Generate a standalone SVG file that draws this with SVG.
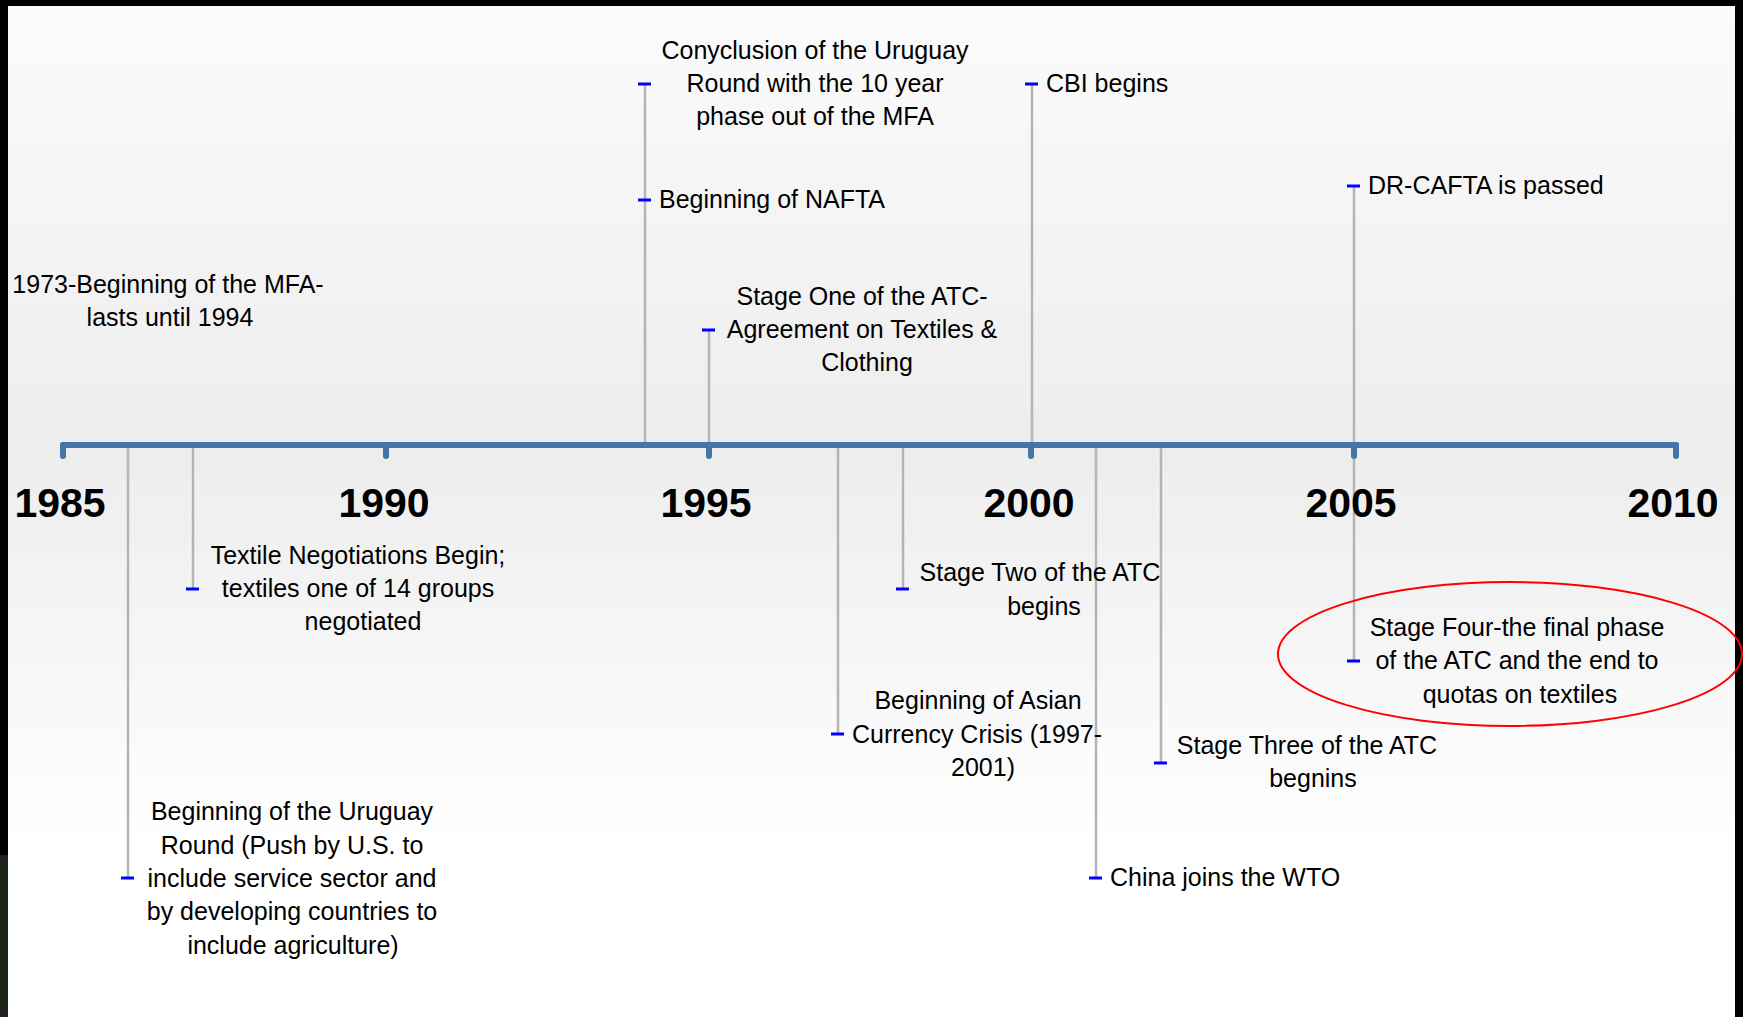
<svg xmlns="http://www.w3.org/2000/svg" width="1743" height="1017" viewBox="0 0 1743 1017">
<defs>
<linearGradient id="bg" x1="0" y1="0" x2="0" y2="1">
<stop offset="0" stop-color="#fbfbfb"/>
<stop offset="0.44" stop-color="#ededed"/>
<stop offset="0.84" stop-color="#ffffff"/>
<stop offset="1" stop-color="#ffffff"/>
</linearGradient>
<style>
.axis{stroke:#4674a6;stroke-width:6;stroke-linecap:round;fill:none}
.tick{stroke:#4674a6;stroke-width:6;stroke-linecap:round}
.yr{font-family:"Liberation Sans",Arial,sans-serif;font-weight:bold;font-size:41px;fill:#000;text-anchor:middle}
.stem{stroke:#b4b4b4;stroke-width:2.5}
.dash{stroke:#0000ff;stroke-width:3}
.lbl{font-family:"Liberation Sans",Arial,sans-serif;font-size:25px;fill:#000}
.c{text-anchor:middle}
</style>
</defs>
<rect x="0" y="0" width="1743" height="1017" fill="#000"/>
<rect x="0" y="855" width="8" height="162" fill="#1e261c"/>
<rect x="8" y="6" width="1727" height="1011" fill="url(#bg)"/>

<g id="connectors">
<line class="stem" x1="128" y1="445" x2="128" y2="878"/>
<line class="stem" x1="193" y1="445" x2="193" y2="589"/>
<line class="stem" x1="645" y1="445" x2="645" y2="83"/>
<line class="stem" x1="709" y1="445" x2="709" y2="330"/>
<line class="stem" x1="838" y1="445" x2="838" y2="734"/>
<line class="stem" x1="903" y1="445" x2="903" y2="589"/>
<line class="stem" x1="1032" y1="445" x2="1032" y2="83"/>
<line class="stem" x1="1096" y1="445" x2="1096" y2="878"/>
<line class="stem" x1="1161" y1="445" x2="1161" y2="763"/>
<line class="stem" x1="1354" y1="186" x2="1354" y2="661"/>
</g>

<g id="axis">
<line class="axis" x1="63" y1="445" x2="1676" y2="445"/>
<line class="tick" x1="63" y1="445" x2="63" y2="456"/>
<line class="tick" x1="386" y1="445" x2="386" y2="456"/>
<line class="tick" x1="709" y1="445" x2="709" y2="456"/>
<line class="tick" x1="1031" y1="445" x2="1031" y2="456"/>
<line class="tick" x1="1354" y1="445" x2="1354" y2="456"/>
<line class="tick" x1="1676" y1="445" x2="1676" y2="456"/>
<text class="yr" x="60" y="517">1985</text>
<text class="yr" x="384" y="517">1990</text>
<text class="yr" x="706" y="517">1995</text>
<text class="yr" x="1029" y="517">2000</text>
<text class="yr" x="1351" y="517">2005</text>
<text class="yr" x="1673" y="517">2010</text>
</g>

<g id="ev-mfa">
<text class="lbl c" x="168" y="293">1973-Beginning of the MFA-</text>
<text class="lbl c" x="170" y="326">lasts until 1994</text>
</g>

<g id="ev-conclusion">
<line class="dash" x1="638" y1="84" x2="651" y2="84"/>
<text class="lbl c" x="815" y="59">Conyclusion of the Uruguay</text>
<text class="lbl c" x="815" y="92">Round with the 10 year</text>
<text class="lbl c" x="815" y="125">phase out of the MFA</text>
</g>

<g id="ev-nafta">
<line class="dash" x1="638" y1="200" x2="651" y2="200"/>
<text class="lbl" x="659" y="208">Beginning of NAFTA</text>
</g>

<g id="ev-stage1">
<line class="dash" x1="702" y1="330" x2="715" y2="330"/>
<text class="lbl c" x="862" y="305">Stage One of the ATC-</text>
<text class="lbl c" x="862" y="338">Agreement on Textiles &amp;</text>
<text class="lbl c" x="867" y="371">Clothing</text>
</g>

<g id="ev-cbi">
<line class="dash" x1="1025" y1="84" x2="1038" y2="84"/>
<text class="lbl" x="1046" y="92">CBI begins</text>
</g>

<g id="ev-drcafta">
<line class="dash" x1="1347" y1="186" x2="1360" y2="186"/>
<text class="lbl" x="1368" y="194">DR-CAFTA is passed</text>
</g>

<g id="ev-textile">
<line class="dash" x1="186" y1="589" x2="199" y2="589"/>
<text class="lbl c" x="358" y="564">Textile Negotiations Begin;</text>
<text class="lbl c" x="358" y="597">textiles one of 14 groups</text>
<text class="lbl c" x="363" y="630">negotiated</text>
</g>

<g id="ev-uruguay">
<line class="dash" x1="121" y1="878" x2="134" y2="878"/>
<text class="lbl c" x="292" y="820">Beginning of the Uruguay</text>
<text class="lbl c" x="292" y="854">Round (Push by U.S. to</text>
<text class="lbl c" x="292" y="887">include service sector and</text>
<text class="lbl c" x="292" y="920">by developing countries to</text>
<text class="lbl c" x="293" y="954">include agriculture)</text>
</g>

<g id="ev-stage2">
<line class="dash" x1="896" y1="589" x2="909" y2="589"/>
<text class="lbl c" x="1040" y="581">Stage Two of the ATC</text>
<text class="lbl c" x="1044" y="615">begins</text>
</g>

<g id="ev-asian">
<line class="dash" x1="831" y1="734" x2="844" y2="734"/>
<text class="lbl c" x="978" y="709">Beginning of Asian</text>
<text class="lbl c" x="977" y="743">Currency Crisis (1997-</text>
<text class="lbl c" x="983" y="776">2001)</text>
</g>

<g id="ev-china">
<line class="dash" x1="1089" y1="878" x2="1102" y2="878"/>
<text class="lbl" x="1110" y="886">China joins the WTO</text>
</g>

<g id="ev-stage3">
<line class="dash" x1="1154" y1="763" x2="1167" y2="763"/>
<text class="lbl c" x="1307" y="754">Stage Three of the ATC</text>
<text class="lbl c" x="1313" y="787">begnins</text>
</g>

<g id="ev-stage4">
<line class="dash" x1="1347" y1="661" x2="1360" y2="661"/>
<text class="lbl c" x="1517" y="636">Stage Four-the final phase</text>
<text class="lbl c" x="1517" y="669">of the ATC and the end to</text>
<text class="lbl c" x="1520" y="703">quotas on textiles</text>
<ellipse cx="1510" cy="654" rx="232" ry="72" fill="none" stroke="#ff0000" stroke-width="2"/>
</g>
</svg>
